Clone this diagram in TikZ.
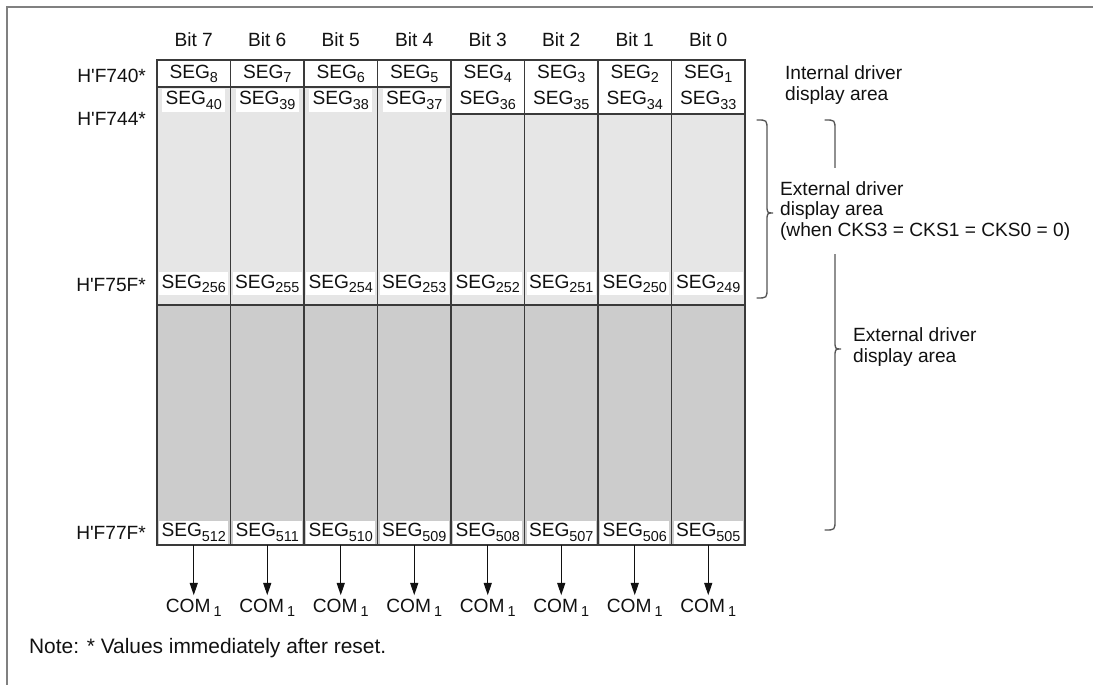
\documentclass[tikz,border=0pt]{standalone}
\usepackage{fontspec}
\setmainfont{Liberation Sans}
\usepackage{xcolor}
\usepackage{tikz}
\usetikzlibrary{arrows.meta}
\definecolor{MapInk}{HTML}{111111}
\definecolor{MapRule}{HTML}{3A3A3A}
\definecolor{MapFrame}{HTML}{808080}
\definecolor{MapBrace}{HTML}{555555}
\definecolor{MapLight}{HTML}{E6E6E6}
\definecolor{MapDark}{HTML}{CCCCCC}
\newcommand{\MapFont}{\fontsize{10.9}{11.6}\selectfont}
\newcommand{\NoteFont}{\fontsize{11.9}{12.4}\selectfont}
\newcommand{\Aq}{\textquotesingle}
\newcommand{\Sub}[1]{\raisebox{-0.45ex}{\fontsize{8.2}{8.2}\selectfont #1}}
\tikzset{
  page frame/.style={draw=MapFrame,line width=1.1pt},
  grid rule/.style={draw=MapRule,line width=0.7pt},
  brace line/.style={draw=MapBrace,line width=0.75pt,line cap=round},
  bit label/.style={text=MapInk,font=\MapFont,inner sep=1pt},
  seg label/.style={text=MapInk,font=\MapFont,inner sep=1pt},
  seg box/.style={seg label,fill=white,minimum width=1.27cm,minimum height=0.46cm},
  wide box/.style={seg box,minimum width=1.38cm},
  addr label/.style={anchor=east,text=MapInk,font=\MapFont,inner sep=1pt},
  com label/.style={text=MapInk,font=\MapFont,inner sep=2pt},
  side note/.style={anchor=west,align=left,text=MapInk,font=\MapFont,inner sep=1pt},
  down arrow/.style={draw=MapInk,line width=0.6pt,-{Triangle[length=7pt,width=4.6pt]}}
}

\begin{document}
\begin{tikzpicture}[x=0.02cm,y=-0.02cm]
  % 1 unit = 1 px of the 1093 x 685 sheet, y runs downward
  \path[use as bounding box] (0,0) rectangle (1093,685);
  \draw[page frame] (7,685) -- (7,7) -- (1093,7);

  \def\tabl{157}
  \def\colw{73.5}
  \def\tabt{60}
  \def\tabb{545}
  \def\midy{305}

  % shading of the RAM map
  \fill[MapLight] (\tabl,87) rectangle (451,\midy);
  \fill[MapLight] (451,114) rectangle (745,\midy);
  \fill[MapDark] (\tabl,\midy) rectangle (745,\tabb);

  % rules
  \draw[grid rule] (\tabl,\tabt) rectangle (745,\tabb);
  \draw[grid rule] (\tabl,87) -- (451,87);
  \draw[grid rule] (451,114) -- (745,114);
  \draw[grid rule] (\tabl,\midy) -- (745,\midy);
  \foreach \i in {1,...,7}
    \draw[grid rule] ({\tabl+\colw*\i},\tabt) -- ({\tabl+\colw*\i},\tabb);

  % one column per bit
  \foreach \i in {0,...,7}{
    \pgfmathsetmacro{\cx}{\tabl+\colw*\i+\colw/2}
    \pgfmathtruncatemacro{\bitno}{7-\i}
    \pgfmathtruncatemacro{\segA}{8-\i}
    \pgfmathtruncatemacro{\segB}{40-\i}
    \pgfmathtruncatemacro{\segC}{256-\i}
    \pgfmathtruncatemacro{\segD}{512-\i}
    \node[bit label] (bit\bitno) at (\cx,40) {Bit \bitno};
    \node[seg label] (segA\bitno) at (\cx,74) {SEG\Sub{\segA}};
    \node[seg box] (segB\bitno) at (\cx,100.5) {SEG\Sub{\segB}};
    \node[wide box] (segC\bitno) at (\cx,284) {SEG\Sub{\segC}};
    \node[wide box] (segD\bitno) at (\cx,532.5) {SEG\Sub{\segD}};
    \coordinate (foot\bitno) at (\cx,\tabb);
    \node[com label] (com\bitno) at (\cx,608) {COM\,\Sub{1}};
    \draw[down arrow] (foot\bitno) -- (com\bitno);
  }

  % addresses
  \node[addr label] (a740) at (148,76) {H\Aq F740*};
  \node[addr label] (a744) at (148,119) {H\Aq F744*};
  \node[addr label] (a75f) at (148,285) {H\Aq F75F*};
  \node[addr label] (a77f) at (148,533) {H\Aq F77F*};

  % braces on the right
  \draw[brace line] (825,120) .. controls (835,120) .. (835,130) -- (835,340)
    .. controls (835,349) .. (841,349) .. controls (835,349) .. (835,358)
    -- (835,520) .. controls (835,530) .. (825,530);
  \draw[brace line] (757,120) .. controls (767,120) .. (767,130) -- (767,204)
    .. controls (767,213) .. (773,213) .. controls (767,213) .. (767,222)
    -- (767,288) .. controls (767,298) .. (757,298);

  \node[side note] (intArea) at (783,85) {Internal driver\\display area};
  \node[side note,fill=white,inner ysep=8pt] (extAreaA) at (778,211)
    {External driver\\display area\\(when CKS3 = CKS1 = CKS0 = 0)};
  \node[side note] (extAreaB) at (851,347) {External driver\\display area};

  \node[anchor=west,text=MapInk,font=\NoteFont,inner sep=1pt] (note) at (27,648)
    {Note: * Values immediately after reset.};
\end{tikzpicture}
\end{document}
